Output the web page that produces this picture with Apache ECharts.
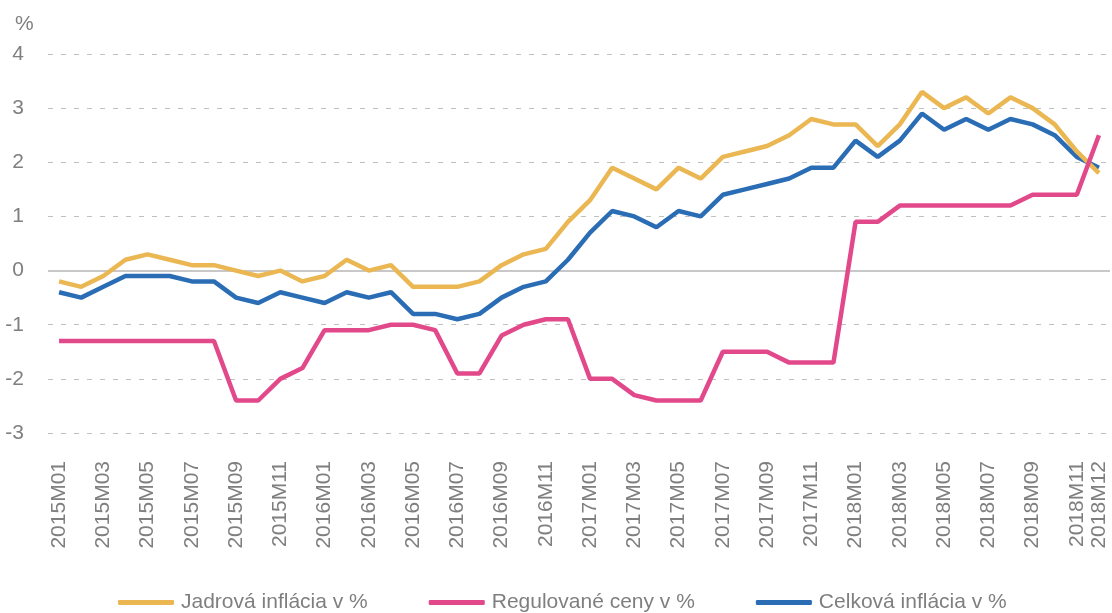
<!doctype html>
<html>
<head>
    <meta charset="UTF-8">
    <title>inflacia</title>
    <script src="https://cdn.jsdelivr.net/npm/echarts@6/dist/echarts.min.js"></script>
    <style>
        html, body {
            margin: 0;
            padding: 0;
            background: #fff;
        }
        #main {
            width: 1112px;
            height: 613px;
        }
    </style>
</head>
<body>
    <div id="main"></div>
    <script>
        var years = ['2015', '2016', '2017', '2018'];
        var months = ['01', '02', '03', '04', '05', '06', '07', '08', '09', '10', '11', '12'];
        var categories = [];
        years.forEach(function (y) {
            months.forEach(function (m) {
                categories.push(y + 'M' + m);
            });
        });

        var jadrova = [
            -0.2, -0.3, -0.1, 0.2, 0.3, 0.2, 0.1, 0.1, 0.0, -0.1, 0.0, -0.2,
            -0.1, 0.2, 0.0, 0.1, -0.3, -0.3, -0.3, -0.2, 0.1, 0.3, 0.4, 0.9,
            1.3, 1.9, 1.7, 1.5, 1.9, 1.7, 2.1, 2.2, 2.3, 2.5, 2.8, 2.7,
            2.7, 2.3, 2.7, 3.3, 3.0, 3.2, 2.9, 3.2, 3.0, 2.7, 2.2, 1.8
        ];
        var regulovane = [
            -1.3, -1.3, -1.3, -1.3, -1.3, -1.3, -1.3, -1.3, -2.4, -2.4, -2.0, -1.8,
            -1.1, -1.1, -1.1, -1.0, -1.0, -1.1, -1.9, -1.9, -1.2, -1.0, -0.9, -0.9,
            -2.0, -2.0, -2.3, -2.4, -2.4, -2.4, -1.5, -1.5, -1.5, -1.7, -1.7, -1.7,
            0.9, 0.9, 1.2, 1.2, 1.2, 1.2, 1.2, 1.2, 1.4, 1.4, 1.4, 2.5
        ];
        var celkova = [
            -0.4, -0.5, -0.3, -0.1, -0.1, -0.1, -0.2, -0.2, -0.5, -0.6, -0.4, -0.5,
            -0.6, -0.4, -0.5, -0.4, -0.8, -0.8, -0.9, -0.8, -0.5, -0.3, -0.2, 0.2,
            0.7, 1.1, 1.0, 0.8, 1.1, 1.0, 1.4, 1.5, 1.6, 1.7, 1.9, 1.9,
            2.4, 2.1, 2.4, 2.9, 2.6, 2.8, 2.6, 2.8, 2.7, 2.5, 2.1, 1.9
        ];
        var seriesNames = ['Jadrová inflácia v %', 'Regulované ceny v %', 'Celková inflácia v %'];

        var font = 'Arial, "Liberation Sans", sans-serif';
        var gray = '#7f7f7f';

        var myChart = echarts.init(document.getElementById('main'));

        var option = {
            animation: false,
            title: {
                text: '%',
                left: 10,
                top: 9,
                textStyle: {
                    fontFamily: font,
                    fontSize: 21,
                    fontWeight: 'normal',
                    color: gray
                }
            },
            legend: {
                data: seriesNames,
                left: 113,
                top: 587,
                icon: 'roundRect',
                itemWidth: 56,
                itemHeight: 5,
                itemGap: 61,
                textStyle: {
                    fontFamily: font,
                    fontSize: 21,
                    color: gray,
                    padding: [0, 0, 0, 2]
                }
            },
            grid: {
                left: 48,
                right: 2,
                top: 54,
                bottom: 180
            },
            xAxis: {
                type: 'category',
                data: categories,
                boundaryGap: true,
                axisLine: { show: false },
                axisTick: { show: false },
                axisLabel: {
                    rotate: 90,
                    margin: 28,
                    fontFamily: font,
                    fontSize: 21,
                    color: gray,
                    interval: function (i) {
                        return i % 2 === 0 || i === categories.length - 1;
                    }
                }
            },
            yAxis: {
                type: 'value',
                min: -3,
                max: 4,
                interval: 1,
                axisLine: { show: false },
                axisTick: { show: false },
                axisLabel: {
                    margin: 24,
                    fontFamily: font,
                    fontSize: 21,
                    color: gray
                },
                splitLine: {
                    lineStyle: {
                        color: '#c0c0c0',
                        width: 1.2,
                        type: [5, 8]
                    }
                }
            },
            series: [
                {
                    name: seriesNames[2],
                    type: 'line',
                    data: celkova,
                    showSymbol: false,
                    symbol: 'none',
                    lineStyle: { color: '#2a6db5', width: 4.5 },
                    itemStyle: { color: '#2a6db5' },
                    markLine: {
                        silent: true,
                        symbol: 'none',
                        label: { show: false },
                        lineStyle: { color: '#c8c8c8', width: 2, type: 'solid' },
                        data: [{ yAxis: 0 }],
                        z: 1
                    }
                },
                {
                    name: seriesNames[0],
                    type: 'line',
                    data: jadrova,
                    showSymbol: false,
                    symbol: 'none',
                    lineStyle: { color: '#ebb752', width: 4.5 },
                    itemStyle: { color: '#ebb752' }
                },
                {
                    name: seriesNames[1],
                    type: 'line',
                    data: regulovane,
                    showSymbol: false,
                    symbol: 'none',
                    lineStyle: { color: '#e2498a', width: 4.5 },
                    itemStyle: { color: '#e2498a' }
                }
            ]
        };

        myChart.setOption(option);
    </script>
</body>
</html>
